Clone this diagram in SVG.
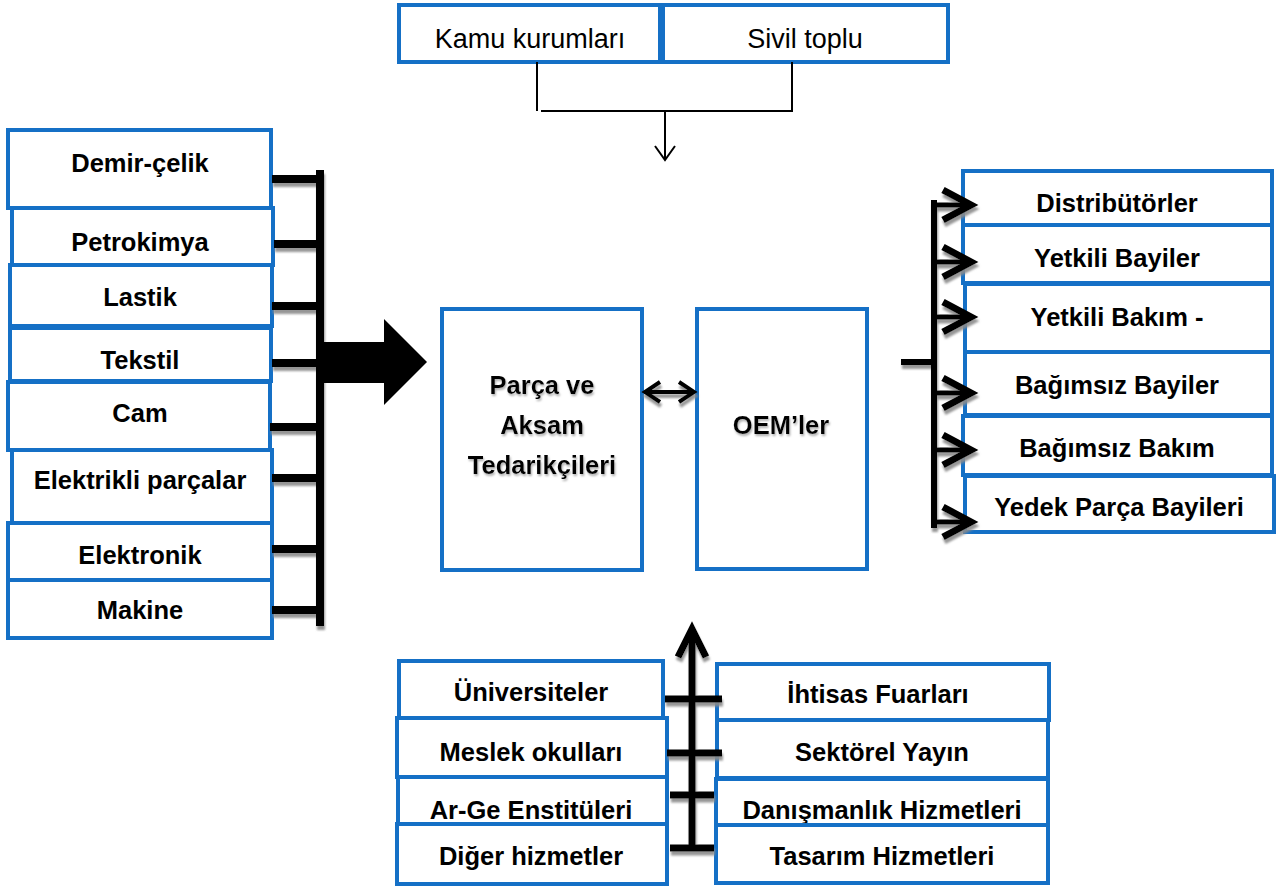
<svg xmlns="http://www.w3.org/2000/svg" width="1276" height="887" viewBox="0 0 1276 887">
  <style>
    .box { fill: #ffffff; stroke: #1570c6; stroke-width: 4; }
    .lbl { font-family: "Liberation Sans", Arial, sans-serif; font-weight: bold; font-size: 25.5px; fill: #000; text-anchor: middle; }
    .reg { font-family: "Liberation Sans", Arial, sans-serif; font-size: 27px; fill: #000; text-anchor: middle; }
    .thin { fill: none; stroke: #000; stroke-width: 2; }
    .bar { fill: none; stroke: #000; }
  </style>
  <defs>
    <filter id="shade" x="-20%" y="-20%" width="140%" height="140%">
      <feDropShadow dx="1" dy="4" stdDeviation="0.8" flood-color="#8a8a8a" flood-opacity="0.9"/>
    </filter>
    <filter id="tshade" x="-10%" y="-20%" width="120%" height="140%">
      <feDropShadow dx="1" dy="2" stdDeviation="0.8" flood-color="#9a9a9a" flood-opacity="0.8"/>
    </filter>
  </defs>
  <rect width="1276" height="887" fill="#ffffff"/>

  <!-- top sources -->
  <g id="kamu"><rect class="box" x="399" y="5" width="261" height="57"/><text class="reg" x="530" y="48">Kamu kurumları</text></g>
  <g id="sivil"><rect class="box" x="663" y="5" width="285" height="57"/><text class="reg" x="805" y="48">Sivil toplu</text></g>

  <!-- left: input industries -->
  <g id="demir"><rect class="box" x="8" y="130" width="263" height="78"/><text class="lbl" x="140" y="172">Demir-çelik</text></g>
  <g id="petro"><rect class="box" x="12" y="208" width="261" height="57"/><text class="lbl" x="140" y="251">Petrokimya</text></g>
  <g id="lastik"><rect class="box" x="10" y="265" width="262" height="61"/><text class="lbl" x="140" y="306">Lastik</text></g>
  <g id="tekstil"><rect class="box" x="10" y="328" width="261" height="53"/><text class="lbl" x="140" y="369">Tekstil</text></g>
  <g id="cam"><rect class="box" x="8" y="382" width="262" height="68"/><text class="lbl" x="140" y="422">Cam</text></g>
  <g id="elektrikli"><rect class="box" x="12" y="450" width="260" height="73"/><text class="lbl" x="140" y="489">Elektrikli parçalar</text></g>
  <g id="elektronik"><rect class="box" x="8" y="523" width="264" height="57"/><text class="lbl" x="140" y="564">Elektronik</text></g>
  <g id="makine"><rect class="box" x="8" y="580" width="264" height="58"/><text class="lbl" x="140" y="619">Makine</text></g>

  <!-- centre -->
  <g id="parca"><rect class="box" x="442" y="309" width="200" height="261"/>
    <g filter="url(#tshade)">
      <text class="lbl" x="542" y="394">Parça ve</text>
      <text class="lbl" x="542" y="434">Aksam</text>
      <text class="lbl" x="542" y="474">Tedarikçileri</text>
    </g>
  </g>
  <g id="oem"><rect class="box" x="697" y="309" width="170" height="260"/>
    <text class="lbl" x="781" y="434" filter="url(#tshade)">OEM’ler</text>
  </g>

  <!-- right: after-sales channels -->
  <g id="distributor"><rect class="box" x="963" y="171" width="309" height="54"/><text class="lbl" x="1117" y="212">Distribütörler</text></g>
  <g id="yetkili-bayi"><rect class="box" x="963" y="225" width="309" height="58"/><text class="lbl" x="1117" y="267">Yetkili Bayiler</text></g>
  <g id="yetkili-bakim"><rect class="box" x="965" y="284" width="307" height="68"/><text class="lbl" x="1117" y="326">Yetkili Bakım -</text></g>
  <g id="bagimsiz-bayi"><rect class="box" x="965" y="352" width="307" height="63"/><text class="lbl" x="1117" y="394">Bağımsız Bayiler</text></g>
  <g id="bagimsiz-bakim"><rect class="box" x="963" y="416" width="309" height="59"/><text class="lbl" x="1117" y="457">Bağımsız Bakım</text></g>
  <g id="yedek"><rect class="box" x="965" y="476" width="309" height="56"/><text class="lbl" x="1119" y="516">Yedek Parça Bayileri</text></g>

  <!-- bottom: supporting institutions -->
  <g id="universite"><rect class="box" x="399" y="661" width="264" height="57"/><text class="lbl" x="531" y="701">Üniversiteler</text></g>
  <g id="meslek"><rect class="box" x="397" y="718" width="270" height="59"/><text class="lbl" x="531" y="761">Meslek okulları</text></g>
  <g id="arge"><rect class="box" x="398" y="777" width="269" height="47"/><text class="lbl" x="531" y="819">Ar-Ge Enstitüleri</text></g>
  <g id="diger"><rect class="box" x="397" y="824" width="270" height="60"/><text class="lbl" x="531" y="865">Diğer hizmetler</text></g>
  <g id="fuar"><rect class="box" x="717" y="664" width="332" height="56"/><text class="lbl" x="878" y="703">İhtisas Fuarları</text></g>
  <g id="yayin"><rect class="box" x="717" y="720" width="331" height="58"/><text class="lbl" x="882" y="761">Sektörel Yayın</text></g>
  <g id="danisman"><rect class="box" x="716" y="779" width="332" height="46"/><text class="lbl" x="882" y="819">Danışmanlık Hizmetleri</text></g>
  <g id="tasarim"><rect class="box" x="716" y="825" width="332" height="58"/><text class="lbl" x="882" y="865">Tasarım Hizmetleri</text></g>

  <!-- connectors -->
  <g id="connectors">
    <!-- public bodies / civil society merge into one downward arrow -->
    <path class="thin" d="M537,62 V111 M541,111 H792 V62 M665,111 V160 M655,146 L665,160 L675,146"/>

    <g filter="url(#shade)">
      <!-- left comb -->
      <path class="bar" stroke-width="8" d="M320,170 V626"/>
      <path class="bar" stroke-width="8" d="M272,179 H320 M274,244 H320 M272,306 H320 M272,363 H320 M270,427 H320 M272,478 H320 M272,549 H320 M272,610 H320"/>

      <!-- supplier ↔ OEM -->
      <path class="bar" stroke-width="4" stroke-linejoin="miter" d="M646,392 H693 M660,382 L645,392 L660,402 M679,382 L694,392 L679,402"/>

      <!-- right distribution fan -->
      <path class="bar" stroke-width="6" d="M934,200 V528 M901,362 H934"/>
      <path class="bar" stroke-width="5" d="M934,205 H970 M934,262 H970 M934,317 H970 M934,393 H970 M934,450 H970 M934,522 H970"/>
      <path class="bar" stroke-width="7" stroke-linejoin="miter" d="M943,190 L971,205 L943,220 M943,247 L971,262 L943,277 M943,302 L971,317 L943,332 M943,378 L971,393 L943,408 M943,435 L971,450 L943,465 M943,507 L971,522 L943,537"/>

      <!-- bottom upward spine -->
      <path class="bar" stroke-width="7" d="M692,851 V630"/>
      <path class="bar" stroke-width="7" stroke-linejoin="miter" d="M678,657 L692,629 L706,657"/>
      <path class="bar" stroke-width="7" d="M665,699 H722 M667,753 H722 M670,795 H714 M670,848 H714"/>
    </g>

    <!-- block arrow into suppliers -->
    <polygon fill="#000" points="320,342 384,342 384,319 427,362 384,405 384,383 320,383"/>
  </g>
</svg>
